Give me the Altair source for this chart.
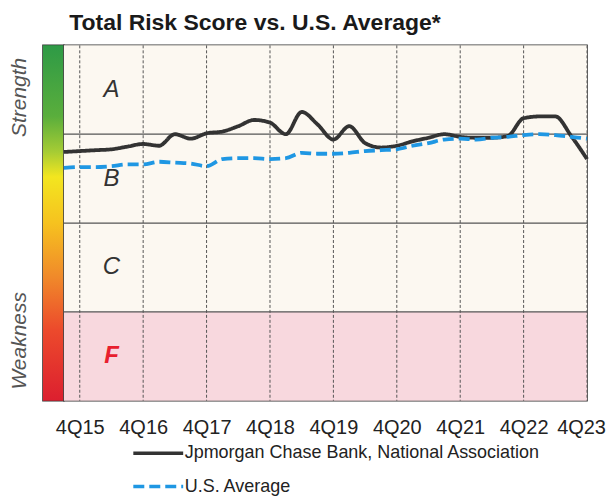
import json
import altair as alt
import pandas as pd

# ---------------- data ----------------
quarters = ["3Q15", "4Q15",
            "1Q16", "2Q16", "3Q16", "4Q16",
            "1Q17", "2Q17", "3Q17", "4Q17",
            "1Q18", "2Q18", "3Q18", "4Q18",
            "1Q19", "2Q19", "3Q19", "4Q19",
            "1Q20", "2Q20", "3Q20", "4Q20",
            "1Q21", "2Q21", "3Q21", "4Q21",
            "1Q22", "2Q22", "3Q22", "4Q22",
            "1Q23", "2Q23", "3Q23", "4Q23"]

# total risk score (0-1 = F, 1-2 = C, 2-3 = B, 3-4 = A)
jpm_scores = [2.80, 2.81, 2.82, 2.83, 2.86, 2.89, 2.87, 3.00, 2.95, 3.01,
              3.03, 3.09, 3.16, 3.13, 3.00, 3.25, 3.11, 2.94, 3.09, 2.90,
              2.85, 2.87, 2.92, 2.96, 3.00, 2.97, 2.96, 2.96, 2.98, 3.18,
              3.20, 3.20, 2.98, 2.72]
us_scores = [2.62, 2.63, 2.63, 2.64, 2.66, 2.66, 2.69, 2.68, 2.67, 2.64,
             2.72, 2.73, 2.73, 2.72, 2.73, 2.79, 2.78, 2.78, 2.79, 2.81,
             2.82, 2.83, 2.87, 2.90, 2.94, 2.95, 2.94, 2.96, 2.97, 2.99,
             3.00, 2.99, 2.97, 2.95]

series_names = ["Jpmorgan Chase Bank, National Association", "U.S. Average"]
tick_labels = ["4Q15", "4Q16", "4Q17", "4Q18", "4Q19", "4Q20", "4Q21", "4Q22", "4Q23"]

grades = ["F", "C", "B", "A"]
grade_lo = [0, 1, 2, 3]
grade_hi = [1, 2, 3, 4]
band_lines = [1, 2, 3]

# ---------------- tables ----------------
line_df = pd.DataFrame({
    "idx": list(range(len(quarters))) * 2,
    "quarter": quarters * 2,
    "score": jpm_scores + us_scores,
    "series": [series_names[0]] * len(quarters) + [series_names[1]] * len(quarters),
})
tick_idx = [quarters.index(q) for q in tick_labels]
tick_df = pd.DataFrame({"idx": tick_idx, "label": tick_labels})
band_df = pd.DataFrame({"grade": grades, "lo": grade_lo, "hi": grade_hi,
                        "mid": [(a + b) / 2 for a, b in zip(grade_lo, grade_hi)]})
hline_df = pd.DataFrame({"y": band_lines})

# ---------------- style ----------------
CREAM = "#fcf8f1"
PINK = "#f8d8de"
GRID = "#555555"
BLACK = "#333333"
BLUE = "#1f97e3"
RED = "#e8202e"
SANS = "Liberation Sans"

PLOT_W, PLOT_H = 524, 356
GRAD_W = 21

x_scale = alt.Scale(domain=[0, len(quarters) - 1], nice=False, zero=False)
y_scale = alt.Scale(domain=[0, 4], nice=False, zero=False)

last_idx = len(quarters) - 1
label_expr = json.dumps(quarters) + "[datum.value]"
x_axis = alt.Axis(values=tick_idx, labelExpr=label_expr, title=None, grid=False,
                  ticks=False, domain=False, labelPadding=17, labelFontSize=20,
                  labelFont=SANS, labelColor="#222222", labelFlush=False,
                  labelOverlap=False,
                  labelOffset={"condition": {"test": f"datum.value == {last_idx}", "value": -6},
                               "value": 0})

bands = alt.Chart(band_df).mark_rect().encode(
    y=alt.Y("lo:Q", scale=y_scale, axis=None),
    y2="hi:Q",
    fill=alt.condition("datum.grade == 'F'", alt.value(PINK), alt.value(CREAM)),
)

vrules = alt.Chart(tick_df).mark_rule(color=GRID, strokeWidth=1, strokeDash=[3, 2]).encode(
    x=alt.X("idx:Q", scale=x_scale, axis=x_axis),
)

hrules = alt.Chart(hline_df).mark_rule(color=GRID, strokeWidth=1.2).encode(
    y=alt.Y("y:Q", scale=y_scale, axis=None),
)

letters_abc = alt.Chart(band_df).transform_filter("datum.grade != 'F'").mark_text(
    font=SANS, fontSize=24, fontStyle="italic", color=BLACK
).encode(
    x=alt.datum(3),
    y=alt.Y("mid:Q", scale=y_scale, axis=None),
    text="grade:N",
)
letter_f = alt.Chart(band_df).transform_filter("datum.grade == 'F'").mark_text(
    font=SANS, fontSize=24, fontStyle="italic", fontWeight="bold", color=RED
).encode(
    x=alt.datum(3),
    y=alt.Y("mid:Q", scale=y_scale, axis=None),
    text="grade:N",
)

# wide, short line symbol for the legend
legend = alt.Legend(orient="none", legendX=106, legendY=399, direction="vertical",
                    title=None, symbolType="M-3.33,0L3.33,0", symbolSize=225,
                    symbolStrokeWidth=3.5, labelFont=SANS, labelFontSize=18,
                    labelColor="#222222", labelLimit=600, rowPadding=14.5,
                    labelOffset=17)

lines = alt.Chart(line_df).mark_line(strokeWidth=3.8, interpolate="monotone").encode(
    x=alt.X("idx:Q", scale=x_scale, axis=x_axis),
    y=alt.Y("score:Q", scale=y_scale, axis=None),
    color=alt.Color("series:N", scale=alt.Scale(domain=series_names, range=[BLACK, BLUE]),
                    legend=legend),
    strokeDash=alt.StrokeDash("series:N",
                              scale=alt.Scale(domain=series_names, range=[[1, 0], [11, 5]]),
                              legend=legend),
    detail="series:N",
)

main = alt.layer(bands, vrules, hrules, letters_abc, letter_f, lines).properties(
    width=PLOT_W, height=PLOT_H
)

# ---------------- strength / weakness gradient bar ----------------
gradient = alt.Gradient(
    gradient="linear",
    x1=0, y1=0, x2=0, y2=1,
    stops=[
        alt.GradientStop(color="#2e9a46", offset=0.0),
        alt.GradientStop(color="#5aae3c", offset=0.2),
        alt.GradientStop(color="#a6cc34", offset=0.3),
        alt.GradientStop(color="#f3e61f", offset=0.37),
        alt.GradientStop(color="#f6c21f", offset=0.5),
        alt.GradientStop(color="#f08a2a", offset=0.65),
        alt.GradientStop(color="#ec4a2c", offset=0.8),
        alt.GradientStop(color="#dc1f2f", offset=1.0),
    ],
)
side_axis = alt.Axis(values=[3.42, 0.68],
                     labelExpr="datum.value > 2 ? 'Strength' : 'Weakness'",
                     title=None, grid=False, ticks=False, domain=False,
                     labelAngle=-90, labelAlign="center", labelBaseline="bottom",
                     labelPadding=13, labelFont=SANS, labelFontSize=21,
                     labelFontStyle="italic", labelColor="#555555",
                     labelFlush=False, labelOverlap=False)
grad_bar = alt.Chart(band_df).transform_aggregate(
    lo="min(lo)", hi="max(hi)"
).mark_rect(fill=gradient).encode(
    y=alt.Y("lo:Q", scale=y_scale, axis=side_axis),
    y2="hi:Q",
).properties(width=GRAD_W, height=PLOT_H)

chart = alt.hconcat(grad_bar, main, spacing=0, bounds="flush").properties(
    padding={"left": 0, "top": 3, "right": 0, "bottom": 0},
    title=alt.TitleParams("Total Risk Score vs. U.S. Average*", anchor="start",
                          dx=61, dy=5, fontSize=23, font=SANS, fontWeight="bold",
                          color="#1a1a1a", offset=14),
).configure_view(stroke="#333333", strokeWidth=1.5)

chart.save("out.html", embed_options={"renderer": "svg", "actions": False})
